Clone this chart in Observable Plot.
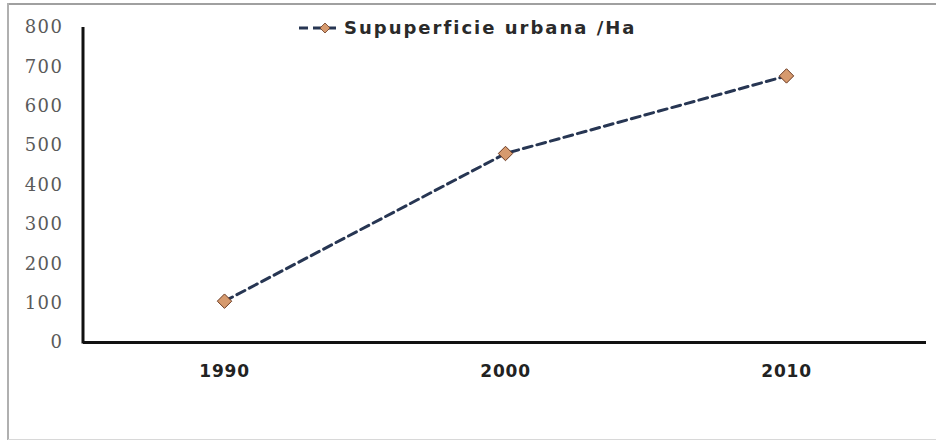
<!DOCTYPE html>
<html>
<head>
<meta charset="utf-8">
<script src="https://cdn.jsdelivr.net/npm/d3@7"></script>
<script src="https://cdn.jsdelivr.net/npm/@observablehq/plot@0.6"></script>
<style>
  html, body { margin: 0; padding: 0; background: #fff; }
  #wrap { position: relative; width: 936px; height: 441px; overflow: hidden; }
  .bt { position: absolute; left: 8px; top: 3px; width: 928px; height: 2px; background: #a0a0a0; }
  .bl { position: absolute; left: 7px; top: 3px; width: 2px; height: 437px; background: #b0b0b0; }
  .bb { position: absolute; left: 8px; top: 439px; width: 928px; height: 1px; background: #d8d8d8; }
  #legend { position: absolute; left: 298px; top: 17px; display: flex; align-items: center;
    font-family: "DejaVu Sans", sans-serif; font-weight: bold; font-size: 18px; color: #2a2a2a; letter-spacing: 2px; }
  #legend svg { margin-right: 2px; }
</style>
</head>
<body>
<div id="wrap">
  <div id="chart"></div>
  <div class="bt"></div><div class="bl"></div><div class="bb"></div>
  <div id="legend"></div>
</div>
<script>
const years = ["1990", "2000", "2010"];
const values = [105, 480, 677];
const yTicks = [0, 100, 200, 300, 400, 500, 600, 700, 800];
const seriesName = "Supuperficie urbana /Ha";

const data = years.map((y, i) => ({year: y, value: values[i]}));

const lineColor = "#273653";
const markerFill = "#d69a6e";
const markerStroke = "#6b3a22";

const chart = Plot.plot({
  width: 936,
  height: 441,
  marginLeft: 83,
  marginRight: 10,
  marginTop: 27,
  marginBottom: 99,
  style: {background: "transparent", overflow: "visible"},
  x: {type: "point", domain: years, padding: 0.5, label: null},
  y: {domain: [0, 800], ticks: yTicks, label: null},
  marks: [
    Plot.axisY({ticks: yTicks, tickSize: 0, tickPadding: 20, fontSize: 18,
      fontFamily: "DejaVu Serif, serif", fill: "#5a5a5a", label: null}),
    Plot.axisX({tickSize: 0, tickPadding: 22, fontSize: 17, fontWeight: "bold",
      fontFamily: "DejaVu Sans, sans-serif", fill: "#222", label: null}),
    Plot.ruleY([0], {stroke: "#111", strokeWidth: 3}),
    Plot.line(data, {x: "year", y: "value", stroke: lineColor, strokeWidth: 3, strokeDasharray: "9,5"}),
    Plot.dot(data, {x: "year", y: "value", symbol: "diamond2", r: 6.5, fill: markerFill, stroke: markerStroke, strokeWidth: 1})
  ]
});
document.getElementById("chart").appendChild(chart);

const svg = d3.select(chart);
svg.selectAll("[aria-label='y-axis tick label'] text").style("letter-spacing", "1.5px");
svg.selectAll("[aria-label='x-axis tick label'] text").style("letter-spacing", "0.8px");
svg.append("line")
  .attr("x1", 83).attr("x2", 83).attr("y1", 27).attr("y2", 343.5)
  .attr("stroke", "#111").attr("stroke-width", 3);

const leg = document.getElementById("legend");
leg.innerHTML = `<svg width="44" height="14">
  <line x1="1" x2="43" y1="7" y2="7" stroke="${lineColor}" stroke-width="3" stroke-dasharray="9,5"/>
  <path d="M27,2 L32,7 L27,12 L22,7 Z" fill="${markerFill}" stroke="${markerStroke}" stroke-width="0.8"/>
</svg><span>${seriesName}</span>`;
</script>
</body>
</html>
